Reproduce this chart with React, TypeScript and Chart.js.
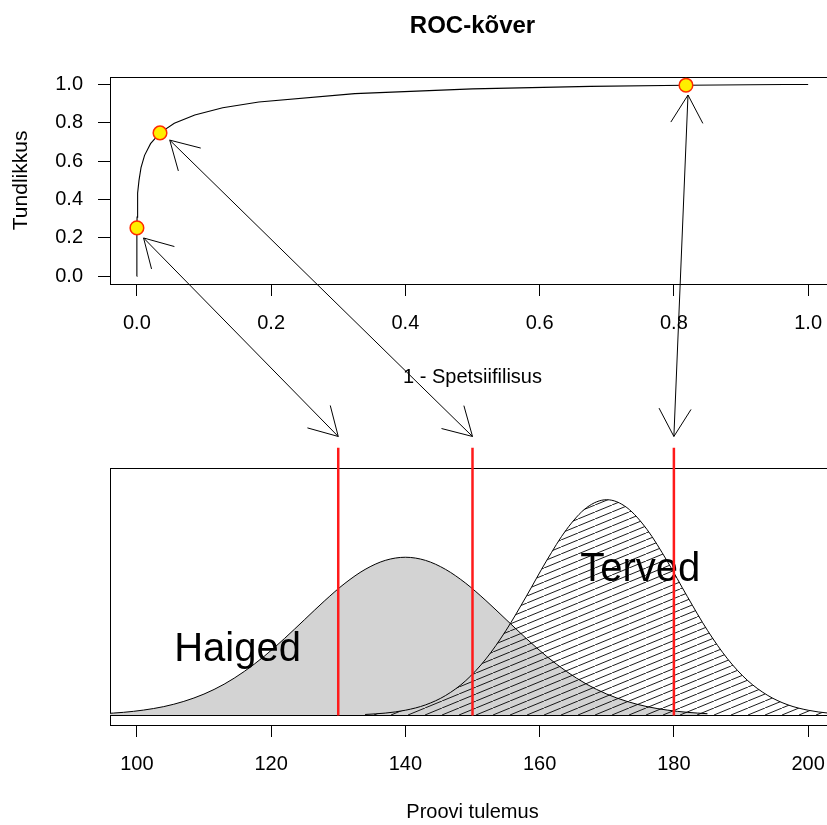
import React, { useEffect, useRef } from 'react';
import { Chart, registerables } from 'chart.js';
Chart.register(...registerables);

const FAMILY = '"Liberation Sans", Arial, Helvetica, sans-serif';

// ---- ROC plot (top) ----
const rocTitle = 'ROC-kõver';
const rocXLabel = '1 - Spetsiifilisus';
const rocYLabel = 'Tundlikkus';
const rocTicks = [0, 0.2, 0.4, 0.6, 0.8, 1.0];

const rocFpr = [0, 0, 0, 0.000003, 0.00002, 0.00014, 0.00033, 0.00073, 0.00156, 0.0032, 0.0062, 0.0115, 0.0204, 0.0345, 0.0558, 0.0863, 0.1279, 0.1817, 0.3247, 0.5, 0.6753, 0.8184, 0.9137, 0.9655, 0.9968, 1];
const rocTpr = [0, 0.0038, 0.0228, 0.0912, 0.1587, 0.2525, 0.3085, 0.3694, 0.4338, 0.5, 0.5662, 0.6306, 0.6915, 0.7475, 0.7977, 0.8413, 0.8783, 0.9088, 0.9522, 0.9773, 0.9902, 0.9962, 0.9987, 0.9996, 1, 1];

// marked ROC points (thresholds 130, 150, 180)
const markFpr = [0.0001, 0.0345, 0.818];
const markTpr = [0.2525, 0.7475, 0.9962];

// arrow ends near the ROC points (ROC units)
const arrowFpr = [0.01, 0.049, 0.821];
const arrowTpr = [0.2, 0.71, 0.945];

// ---- distributions (bottom) ----
const distXLabel = 'Proovi tulemus';
const distTicks = [100, 120, 140, 160, 180, 200];
const thresholds = [130, 150, 180];
const redTopY = 0.045;     // top of red threshold lines (density units)
const arrowEndY = 0.0469;  // arrow ends above threshold lines (density units)

const haigedX = [95, 98, 101, 104, 107, 110, 113, 116, 119, 122, 125, 128, 131, 134, 137, 140, 143, 146, 149, 152, 155, 158, 161, 164, 167, 170, 173, 176, 179, 182, 185];
const haigedY = [0.0003, 0.00053, 0.00091, 0.00149, 0.00237, 0.0036, 0.00526, 0.0074, 0.00998, 0.01295, 0.01613, 0.01931, 0.02222, 0.02455, 0.02607, 0.0266, 0.02607, 0.02455, 0.02222, 0.01931, 0.01613, 0.01295, 0.00998, 0.0074, 0.00526, 0.0036, 0.00237, 0.00149, 0.00091, 0.00053, 0.0003];

const tervedX = [134, 137, 140, 143, 146, 149, 152, 155, 158, 161, 164, 167, 170, 173, 176, 179, 182, 185, 188, 191, 194, 197, 200, 203, 206];
const tervedY = [0.00017, 0.0004, 0.00088, 0.00178, 0.00336, 0.00586, 0.00951, 0.01431, 0.02, 0.02595, 0.03126, 0.03494, 0.03627, 0.03494, 0.03126, 0.02595, 0.02, 0.01431, 0.00951, 0.00586, 0.00336, 0.00178, 0.00088, 0.0004, 0.00017];

const groupNames = ['Haiged', 'Terved'];
const groupLabelX = [115, 175];
const groupLabelY = [0.011, 0.0245];

const TOP_H = 400;
const BOT_H = 425;
const CANVAS_W = 860;

function makeHatch(): CanvasPattern | string {
  const W = 17, H = 7;
  const c = document.createElement('canvas');
  c.width = W; c.height = H;
  const g = c.getContext('2d');
  if (!g) return 'rgba(0,0,0,0)';
  g.strokeStyle = '#000';
  g.lineWidth = 0.9;
  for (const k of [-1, 0, 1]) {
    g.beginPath();
    g.moveTo(k * W, H);
    g.lineTo(k * W + W, 0);
    g.stroke();
  }
  return g.createPattern(c, 'repeat') || '#fff';
}

const boxPlugin = {
  id: 'rbox',
  beforeDatasetsDraw(chart: any) {
    const { ctx, chartArea: a } = chart;
    ctx.save();
    ctx.strokeStyle = '#000';
    ctx.lineWidth = 1;
    ctx.strokeRect(Math.round(a.left) + 0.5, Math.round(a.top) + 0.5, Math.round(a.right - a.left), Math.round(a.bottom - a.top));
    ctx.restore();
  },
};

function drawArrow(ctx: CanvasRenderingContext2D, x0: number, y0: number, x1: number, y1: number) {
  const len = 32, ang = Math.PI / 6;
  const a = Math.atan2(y1 - y0, x1 - x0);
  ctx.beginPath();
  ctx.moveTo(x0, y0);
  ctx.lineTo(x1, y1);
  for (const s of [-1, 1]) {
    ctx.moveTo(x1, y1);
    ctx.lineTo(x1 - len * Math.cos(a + s * ang), y1 - len * Math.sin(a + s * ang));
    ctx.moveTo(x0, y0);
    ctx.lineTo(x0 + len * Math.cos(a + s * ang), y0 + len * Math.sin(a + s * ang));
  }
  ctx.stroke();
}

export default function App() {
  const topRef = useRef<HTMLCanvasElement>(null);
  const botRef = useRef<HTMLCanvasElement>(null);
  const ovRef = useRef<HTMLCanvasElement>(null);

  useEffect(() => {
    document.body.style.margin = '0';
    Chart.defaults.font.family = FAMILY;
    Chart.defaults.color = '#000';
    const tickFont = { size: 20, family: FAMILY };

    const topChart = new Chart(topRef.current as HTMLCanvasElement, {
      type: 'line',
      data: {
        datasets: [
          {
            data: markFpr.map((x, i) => ({ x, y: markTpr[i] })),
            showLine: false,
            pointRadius: 6.8,
            pointBackgroundColor: '#ffee00',
            pointBorderColor: '#ff2a00',
            pointBorderWidth: 1.5,
            clip: false,
          } as any,
          {
            data: rocFpr.map((x, i) => ({ x, y: rocTpr[i] })),
            borderColor: '#000',
            borderWidth: 1.1,
            pointRadius: 0,
            tension: 0,
            fill: false,
          },
        ],
      },
      options: {
        responsive: false,
        animation: false,
        devicePixelRatio: 1,
        events: [],
        layout: { padding: { left: 0, right: 25, top: 0, bottom: 0 } },
        plugins: {
          legend: { display: false },
          tooltip: { enabled: false },
          title: {
            display: true,
            text: rocTitle,
            fullSize: false,
            color: '#000',
            font: { size: 24, weight: 'bold', family: FAMILY },
            padding: { top: 12, bottom: 36 },
          } as any,
        },
        scales: {
          x: {
            type: 'linear',
            min: -0.04,
            max: 1.04,
            afterBuildTicks: (s: any) => { s.ticks = rocTicks.map((v) => ({ value: v })); },
            afterFit: (s: any) => { s.height = 116; },
            ticks: { font: tickFont, color: '#000', padding: 15, autoSkip: false, maxRotation: 0, callback: (v: any) => Number(v).toFixed(1) },
            grid: { drawOnChartArea: false, drawTicks: true, tickLength: 12, color: '#000' },
            border: { display: false },
            title: { display: true, text: rocXLabel, color: '#000', font: { size: 20, family: FAMILY }, padding: { top: 0, bottom: 11 } },
          },
          y: {
            type: 'linear',
            min: -0.04,
            max: 1.04,
            afterBuildTicks: (s: any) => { s.ticks = rocTicks.map((v) => ({ value: v })); },
            afterFit: (s: any) => { s.width = 110; },
            ticks: { font: tickFont, color: '#000', padding: 15, autoSkip: false, callback: (v: any) => Number(v).toFixed(1) },
            grid: { drawOnChartArea: false, drawTicks: true, tickLength: 12, color: '#000' },
            border: { display: false },
            title: { display: true, text: rocYLabel, color: '#000', font: { size: 21, family: FAMILY }, padding: { top: 9, bottom: 0 } },
          },
        },
      } as any,
      plugins: [boxPlugin],
    });

    const hatch = makeHatch();
    const labelPlugin = {
      id: 'glabels',
      afterDatasetDraw(chart: any, args: any) {
        if (args.index !== thresholds.length) return;
        const { ctx, chartArea: a } = chart;
        const xs = chart.scales.x, ys = chart.scales.y;
        ctx.save();
        // baseline at density 0
        const y0 = Math.round(ys.getPixelForValue(0)) + 0.5;
        ctx.strokeStyle = '#000';
        ctx.lineWidth = 1;
        ctx.beginPath();
        ctx.moveTo(a.left, y0);
        ctx.lineTo(a.right, y0);
        ctx.stroke();
        ctx.fillStyle = '#000';
        ctx.font = `40px ${FAMILY}`;
        ctx.textAlign = 'center';
        ctx.textBaseline = 'middle';
        groupNames.forEach((n, i) => {
          ctx.fillText(n, xs.getPixelForValue(groupLabelX[i]), ys.getPixelForValue(groupLabelY[i]));
        });
        ctx.restore();
      },
    };

    const botChart = new Chart(botRef.current as HTMLCanvasElement, {
      type: 'line',
      data: {
        datasets: [
          ...thresholds.map((t) => ({
            data: [{ x: t, y: 0 }, { x: t, y: redTopY }],
            borderColor: '#ff1a1a',
            borderWidth: 2.5,
            pointRadius: 0,
            fill: false,
            clip: false,
          })),
          {
            data: tervedX.map((x, i) => ({ x, y: tervedY[i] })),
            borderColor: '#000',
            borderWidth: 1,
            pointRadius: 0,
            cubicInterpolationMode: 'monotone',
            fill: 'origin',
            backgroundColor: hatch,
          },
          {
            data: haigedX.map((x, i) => ({ x, y: haigedY[i] })),
            borderColor: '#000',
            borderWidth: 1,
            pointRadius: 0,
            cubicInterpolationMode: 'monotone',
            fill: 'origin',
            backgroundColor: '#d3d3d3',
          },
        ] as any,
      },
      options: {
        responsive: false,
        animation: false,
        devicePixelRatio: 1,
        events: [],
        layout: { padding: { left: 110, right: 25, top: 68, bottom: 0 } },
        plugins: { legend: { display: false }, tooltip: { enabled: false }, title: { display: false } },
        scales: {
          x: {
            type: 'linear',
            min: 96,
            max: 204,
            afterBuildTicks: (s: any) => { s.ticks = distTicks.map((v) => ({ value: v })); },
            afterFit: (s: any) => { s.height = 100; },
            ticks: { font: tickFont, color: '#000', padding: 15, autoSkip: false, maxRotation: 0, callback: (v: any) => String(v) },
            grid: { drawOnChartArea: false, drawTicks: true, tickLength: 12, color: '#000' },
            border: { display: false },
            title: { display: true, text: distXLabel, color: '#000', font: { size: 20, family: FAMILY }, padding: { top: 0, bottom: 1 } },
          },
          y: { type: 'linear', min: -0.0016, max: 0.0416, display: false },
        },
      } as any,
      plugins: [boxPlugin, labelPlugin],
    });

    const ov = ovRef.current as HTMLCanvasElement;
    const ctx = ov.getContext('2d');
    if (ctx) {
      ctx.clearRect(0, 0, ov.width, ov.height);
      ctx.strokeStyle = '#000';
      ctx.lineWidth = 1;
      const tx = topChart.scales.x, ty = topChart.scales.y;
      const bx = botChart.scales.x, by = botChart.scales.y;
      thresholds.forEach((t, i) => {
        drawArrow(
          ctx,
          tx.getPixelForValue(arrowFpr[i]),
          ty.getPixelForValue(arrowTpr[i]),
          bx.getPixelForValue(t),
          by.getPixelForValue(arrowEndY) + TOP_H,
        );
      });
    }

    return () => {
      topChart.destroy();
      botChart.destroy();
    };
  }, []);

  return (
    <div style={{ position: 'relative', width: 827, height: 825, overflow: 'hidden', background: '#fff' }}>
      <canvas ref={topRef} width={CANVAS_W} height={TOP_H} style={{ position: 'absolute', left: 0, top: 0 }} />
      <canvas ref={botRef} width={CANVAS_W} height={BOT_H} style={{ position: 'absolute', left: 0, top: TOP_H }} />
      <canvas ref={ovRef} width={827} height={825} style={{ position: 'absolute', left: 0, top: 0, pointerEvents: 'none' }} />
    </div>
  );
}
